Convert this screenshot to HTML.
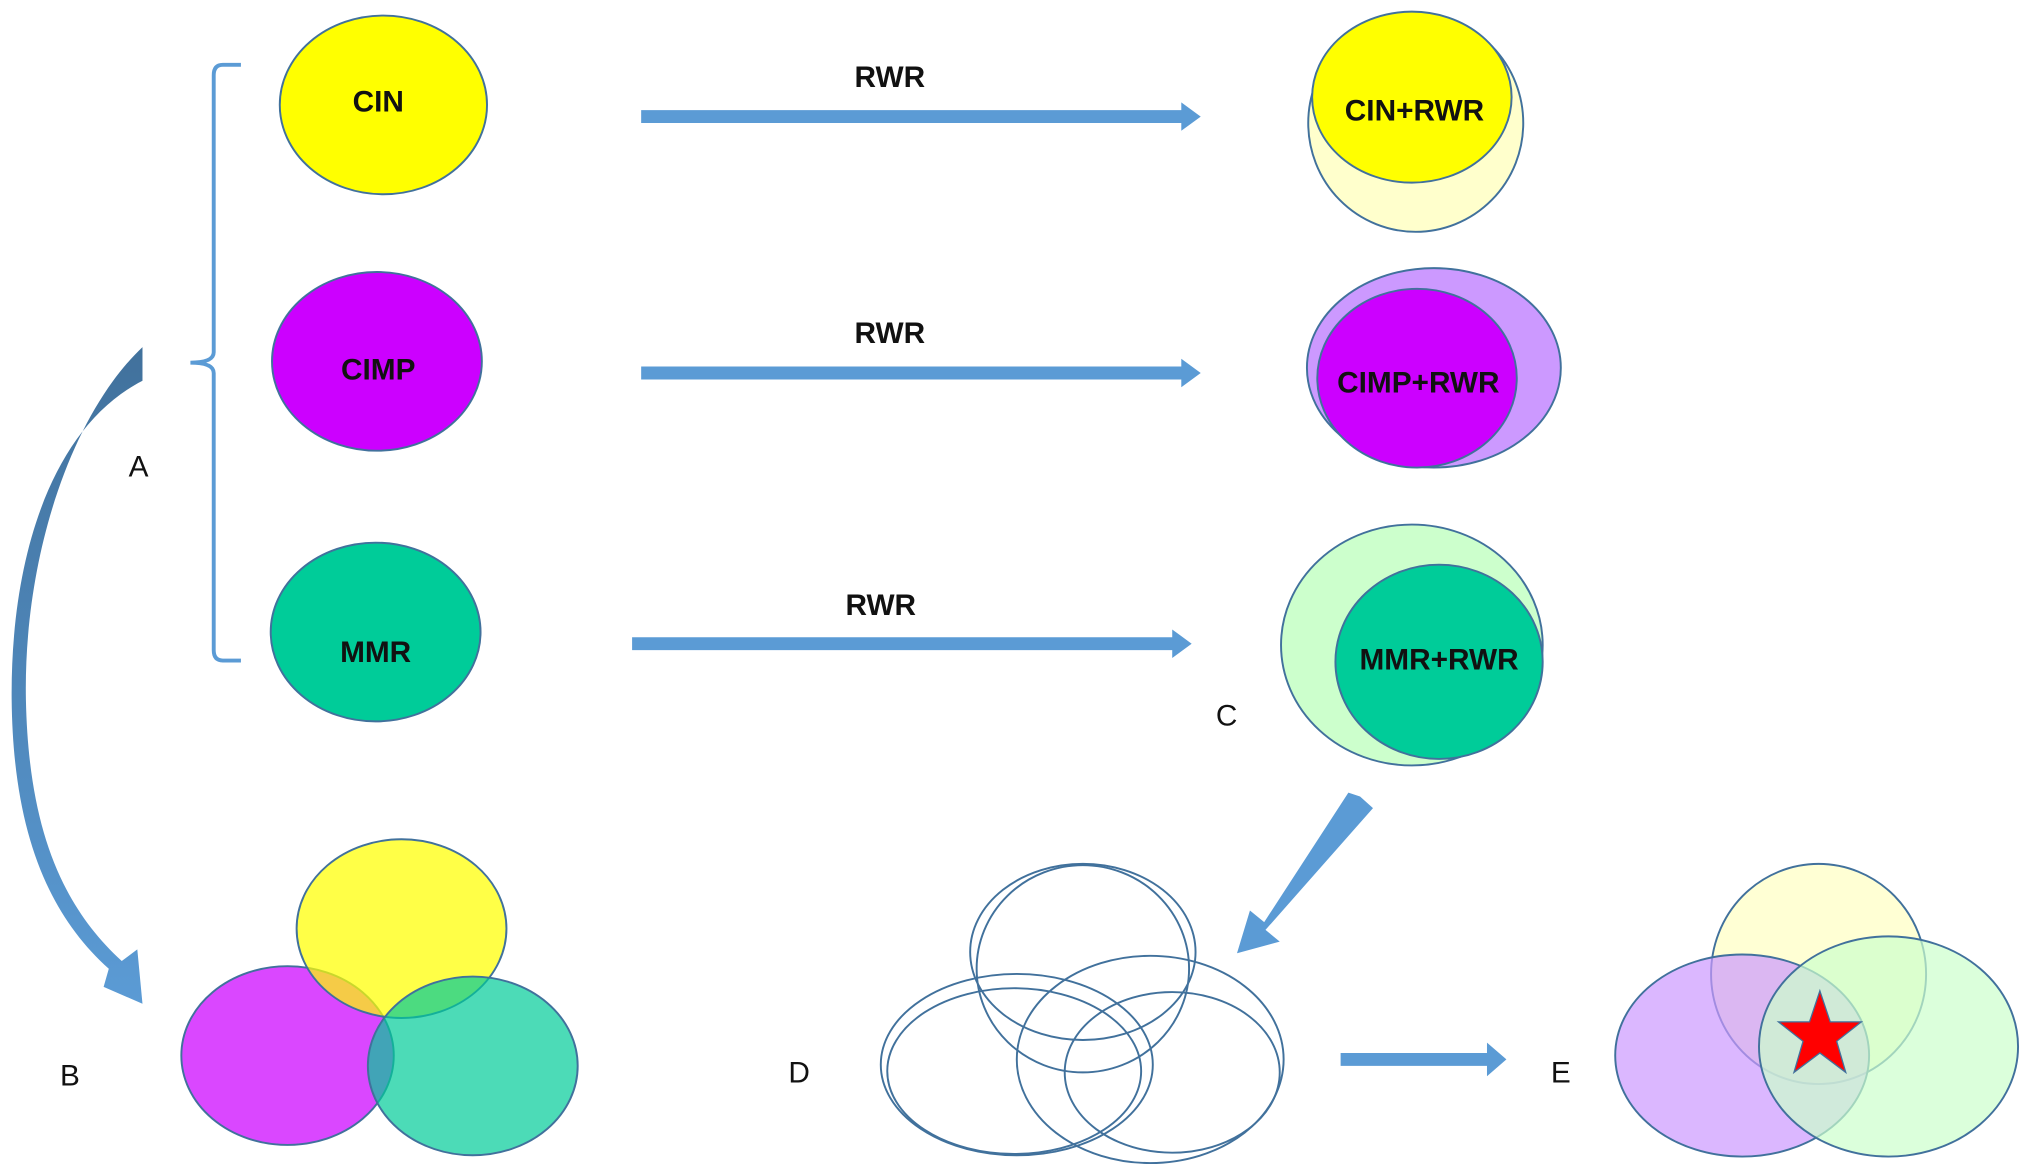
<!DOCTYPE html>
<html><head><meta charset="utf-8"><style>
html,body{margin:0;padding:0;background:#fff;}
svg{display:block;width:2031px;height:1176px;}
text{font-family:"Liberation Sans",Arial,sans-serif;}
.b{font-weight:bold;font-size:23px;fill:#111;}
.l{font-size:23px;fill:#111;}
</style></head><body>
<svg viewBox="0 0 1568 908" preserveAspectRatio="none" xmlns="http://www.w3.org/2000/svg">
<defs>
<linearGradient id="g" x1="0" y1="0" x2="0" y2="1">
<stop offset="0" stop-color="#41719c"/><stop offset="1" stop-color="#5b9bd5"/></linearGradient>
</defs>
<path d="M186,50 L172,50 Q165,50 165,58 L165,272 Q165,280 147,280 Q165,280 165,288 L165,502 Q165,510 172,510 L186,510" fill="none" stroke="#5b9bd5" stroke-width="3"/>
<g stroke="#41719c" stroke-width="1.5">
<ellipse cx="296" cy="81" rx="80" ry="69" fill="#ffff00"/>
<ellipse cx="291" cy="279" rx="81" ry="69" fill="#cc00ff"/>
<ellipse cx="290" cy="488" rx="81" ry="69" fill="#00cc99"/>
</g>
<text class="b" x="292" y="86" text-anchor="middle">CIN</text>
<text class="b" x="292" y="293" text-anchor="middle">CIMP</text>
<text class="b" x="290" y="511" text-anchor="middle">MMR</text>
<g fill="#5b9bd5">
<polygon points="495,85 912,85 912,79 927,90 912,101 912,95 495,95"/>
<polygon points="495,283 912,283 912,277 927,288 912,299 912,293 495,293"/>
<polygon points="488,492 905,492 905,486 920,497 905,508 905,502 488,502"/>
</g>
<text class="b" x="687" y="67" text-anchor="middle">RWR</text>
<text class="b" x="687" y="265" text-anchor="middle">RWR</text>
<text class="b" x="680" y="475" text-anchor="middle">RWR</text>
<g stroke="#41719c" stroke-width="1.5">
<ellipse cx="1093" cy="95" rx="83" ry="84" fill="#ffffcc"/>
<ellipse cx="1090" cy="75" rx="77" ry="66" fill="#ffff00"/>
<ellipse cx="1107" cy="284" rx="98" ry="77" fill="#cc99ff"/>
<ellipse cx="1094" cy="292" rx="77" ry="69" fill="#cc00ff"/>
<ellipse cx="1090" cy="498" rx="101" ry="93" fill="#ccffcc"/>
<ellipse cx="1111" cy="511" rx="80" ry="75" fill="#00cc99"/>
</g>
<text class="b" x="1092" y="93" text-anchor="middle">CIN+RWR</text>
<text class="b" x="1095" y="303" text-anchor="middle">CIMP+RWR</text>
<text class="b" x="1111" y="517" text-anchor="middle">MMR+RWR</text>
<text class="l" x="107" y="368" text-anchor="middle">A</text>
<text class="l" x="54" y="838" text-anchor="middle">B</text>
<text class="l" x="947" y="560" text-anchor="middle">C</text>
<text class="l" x="617" y="836" text-anchor="middle">D</text>
<text class="l" x="1205" y="836" text-anchor="middle">E</text>
<path d="M110,268 L110,294 C40,330 8,430 9,540 C10,640 36,705 84,748 L80,762 L110,775 L106,733 L94,742 C48,700 22,640 20,540 C18,430 55,320 110,268 Z" fill="url(#g)"/>
<g stroke="#41719c" stroke-width="1.5">
<ellipse cx="222" cy="815" rx="82" ry="69" fill="#cc00ff" fill-opacity="0.72"/>
<ellipse cx="310" cy="717" rx="81" ry="69" fill="#ffff00" fill-opacity="0.72"/>
<ellipse cx="365" cy="823" rx="81" ry="69" fill="#00cc99" fill-opacity="0.7"/>
</g>
<polygon points="1050,615 1060,624 977,718 988,727 955,736 965,703 976,712 1041,612" fill="#5b9bd5"/>
<g fill="none" stroke="#41719c" stroke-width="1.5">
<ellipse cx="836" cy="735" rx="87" ry="68"/>
<ellipse cx="836" cy="748" rx="82" ry="80"/>
<ellipse cx="785" cy="822" rx="105" ry="70"/>
<ellipse cx="783" cy="827" rx="98" ry="64"/>
<ellipse cx="888" cy="818" rx="103" ry="80"/>
<ellipse cx="905" cy="828" rx="83" ry="62"/>
</g>
<polygon points="1035,813 1148,813 1148,805 1163,818 1148,831 1148,823 1035,823" fill="#5b9bd5"/>
<g stroke="#41719c" stroke-width="1.5">
<ellipse cx="1404" cy="752" rx="83" ry="85" fill="#ffffcc" fill-opacity="0.85"/>
<ellipse cx="1345" cy="815" rx="98" ry="78" fill="#cc99ff" fill-opacity="0.7"/>
<ellipse cx="1458" cy="808" rx="100" ry="85" fill="#ccffcc" fill-opacity="0.7"/>
</g>
<polygon points="1405,765 1413,789 1437,789 1418,804 1425,828 1405,813 1385,828 1392,804 1373,789 1397,789" fill="#ff0000" stroke="#41719c" stroke-width="1"/>
</svg>
</body></html>
